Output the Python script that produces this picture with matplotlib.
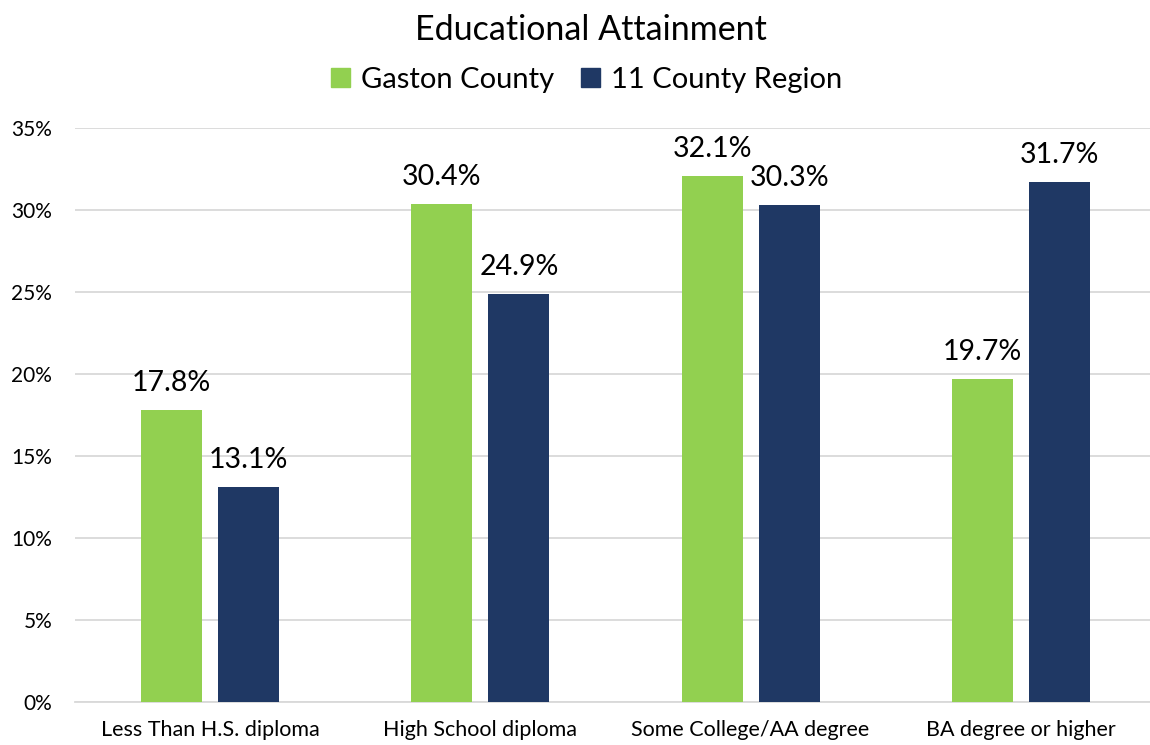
import matplotlib
matplotlib.use("Agg")
import matplotlib.pyplot as plt
import numpy as np
from matplotlib.patches import Patch

plt.rcParams['font.family'] = ['Lato', 'DejaVu Sans']

categories = ["Less Than H.S. diploma", "High School diploma", "Some College/AA degree", "BA degree or higher"]
gaston = [17.8, 30.4, 32.1, 19.7]
region = [13.1, 24.9, 30.3, 31.7]
series_names = ["Gaston County", "11 County Region"]
yticks = [0, 5, 10, 15, 20, 25, 30, 35]

green = "#92d050"
navy = "#1f3864"

fig = plt.figure(figsize=(11.5, 7.45), dpi=100)
ax = fig.add_axes([0.0652, 0.0577, 0.940, 0.7703])

x = np.arange(len(categories))
w = 0.226
off = 0.1426
b1 = ax.bar(x - off, gaston, w, color=green, zorder=3)
b2 = ax.bar(x + off, region, w, color=navy, zorder=3)

for bars, vals in ((b1, gaston), (b2, region)):
    for r, v in zip(bars, vals):
        ax.annotate(f"{v:.1f}%", (r.get_x() + r.get_width() / 2, v),
                    xytext=(0, 10), textcoords="offset points",
                    ha="center", va="bottom", fontsize=20.5, color="#000000")

ax.set_xlim(-0.5, len(categories) - 0.5)
ax.set_ylim(0, 35)
ax.set_yticks(yticks)
ax.set_yticklabels([f"{t}%" for t in yticks], fontsize=15)
ax.set_xticks(x)
ax.set_xticklabels(categories, fontsize=15.5)
ax.tick_params(axis='both', length=0)
ax.tick_params(axis='y', pad=16.5)
ax.tick_params(axis='x', pad=13)
ax.grid(axis='y', color="#d9d9d9", linewidth=1.3, zorder=0)
for s in ["top", "right", "left"]:
    ax.spines[s].set_visible(False)
ax.spines["bottom"].set_color("#d9d9d9")
ax.spines["bottom"].set_linewidth(1.3)

fig.text(0.514, 0.960, "Educational Attainment", ha="center", va="center", fontsize=24.5)
handles = [Patch(color=green), Patch(color=navy)]
fig.legend(handles, series_names, loc="center", bbox_to_anchor=(0.510, 0.893), ncol=2,
           frameon=False, fontsize=21, handlelength=0.65, handleheight=0.65,
           columnspacing=0.9, handletextpad=0.4)

fig.savefig("out.png", dpi=100)
